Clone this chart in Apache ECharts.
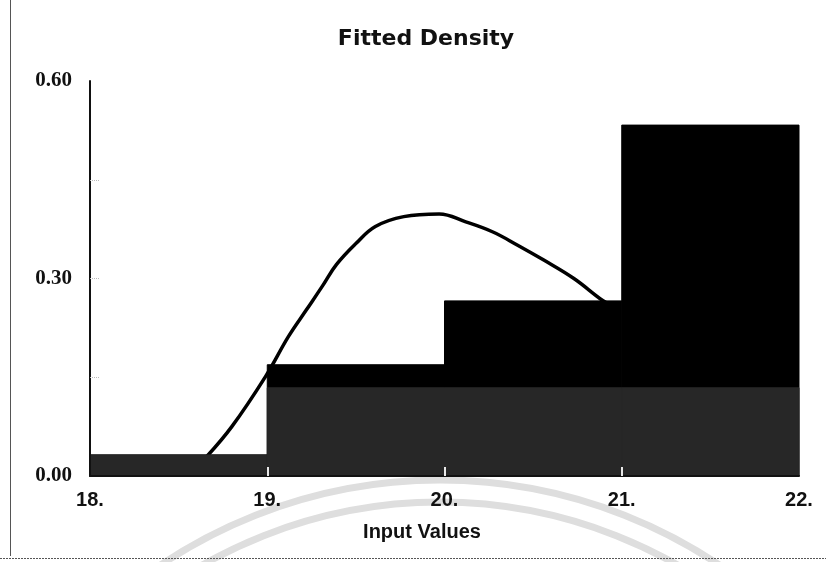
<!DOCTYPE html>
<html>
<head>
<meta charset="utf-8">
<script src="https://cdn.jsdelivr.net/npm/echarts@6/dist/echarts.min.js"></script>
<style>
  html, body { margin: 0; padding: 0; background: #ffffff; }
  #chart { width: 826px; height: 562px; }
</style>
</head>
<body>
<div id="chart"></div>
<script>
// Histogram bins (lower / upper edges) and densities
const binLow = [18, 19, 20, 21];
const binHigh = [19, 20, 21, 22];
const histDensity = [0.032, 0.169, 0.266, 0.533];
// Darker lower band drawn over the histogram
const bandDensity = [0.032, 0.134, 0.134, 0.134];

// Fitted density curve
const curveX = [18.66, 18.80, 18.99, 19.12, 19.22, 19.31, 19.39, 19.50, 19.61, 19.77, 19.97, 20.12, 20.27, 20.41, 20.56, 20.73, 20.89, 20.95];
const curveY = [0.030, 0.075, 0.151, 0.212, 0.252, 0.288, 0.321, 0.353, 0.379, 0.394, 0.398, 0.386, 0.371, 0.351, 0.328, 0.300, 0.267, 0.258];

// Axis ticks
const xTicks = [18, 19, 20, 21, 22];
const yTicks = [0.00, 0.30, 0.60];

const titleText = 'Fitted Density';
const xAxisTitle = 'Input Values';

const histData = binLow.map((lo, i) => [lo, binHigh[i], histDensity[i]]);
const bandData = binLow.map((lo, i) => [lo, binHigh[i], bandDensity[i]]);
const curveData = curveX.map((x, i) => [x, curveY[i]]);

function rectRenderer(color) {
  return function (params, api) {
    const top = api.coord([api.value(0), api.value(2)]);
    const bottom = api.coord([api.value(1), 0]);
    return {
      type: 'rect',
      shape: { x: top[0], y: top[1], width: bottom[0] - top[0], height: bottom[1] - top[1] },
      // same-colour outline closes the hairline seams between neighbouring bins
      style: { fill: color, stroke: color, lineWidth: 1 }
    };
  };
}

const chart = echarts.init(document.getElementById('chart'), null, { renderer: 'canvas' });

chart.setOption({
  backgroundColor: '#ffffff',
  animation: false,
  grid: { left: 90, right: 27, top: 81, bottom: 86 },
  xAxis: {
    type: 'value',
    min: 18, max: 22, interval: 1,
    z: 10,
    axisLine: { show: true, lineStyle: { color: '#111111', width: 2 } },
    axisTick: { show: true, inside: true, length: 9, customValues: [19, 20, 21], lineStyle: { color: '#e8e8e8', width: 2 } },
    splitLine: { show: false },
    axisLabel: {
      customValues: xTicks,
      margin: 14,
      color: '#111111',
      fontFamily: 'Liberation Sans, Arial, sans-serif',
      fontWeight: 'bold',
      fontSize: 20,
      formatter: v => v + '.'
    }
  },
  yAxis: {
    type: 'value',
    min: 0, max: 0.6, interval: 0.15,
    z: 10,
    axisLine: { show: true, lineStyle: { color: '#111111', width: 2 } },
    axisTick: { show: true, inside: true, length: 10, customValues: [0.15, 0.30, 0.45], lineStyle: { color: '#bbbbbb', width: 1, type: 'dotted' } },
    splitLine: { show: false },
    axisLabel: {
      customValues: yTicks,
      margin: 18,
      color: '#111111',
      fontFamily: 'Liberation Serif, Times New Roman, serif',
      fontWeight: 'bold',
      fontSize: 21,
      formatter: v => v.toFixed(2)
    }
  },
  graphic: [
    // faint circular marks in the lower area
    { type: 'arc', z: -10, silent: true, shape: { cx: 440, cy: 981, r: 501, startAngle: Math.PI, endAngle: 2 * Math.PI }, style: { stroke: '#dedede', lineWidth: 7, fill: null } },
    { type: 'arc', z: -10, silent: true, shape: { cx: 440, cy: 981, r: 479, startAngle: Math.PI, endAngle: 2 * Math.PI }, style: { stroke: '#dedede', lineWidth: 7, fill: null } },
    // page frame
    { type: 'line', z: 5, silent: true, shape: { x1: 10.5, y1: 0, x2: 10.5, y2: 556 }, style: { stroke: '#555555', lineWidth: 1 } },
    { type: 'line', z: 5, silent: true, shape: { x1: 0, y1: 558.5, x2: 826, y2: 558.5 }, style: { stroke: '#555555', lineWidth: 1, lineDash: [2, 1] } },
    // chart title
    { type: 'text', z: 20, silent: true,
      style: { text: titleText, x: 426, y: 39, textAlign: 'center', textVerticalAlign: 'middle', fill: '#111111', font: 'bold 22px "DejaVu Sans", Verdana, sans-serif' } },
    // x-axis title
    { type: 'text', z: 20, silent: true,
      style: { text: xAxisTitle, x: 422, y: 532, textAlign: 'center', textVerticalAlign: 'middle', fill: '#111111', font: 'bold 20px "Liberation Sans", Arial, sans-serif' } }
  ],
  series: [
    {
      name: 'Fitted',
      type: 'line',
      z: 1,
      data: curveData,
      smooth: 0.4,
      symbol: 'none',
      lineStyle: { color: '#000000', width: 3.5 }
    },
    {
      name: 'Histogram',
      type: 'custom',
      z: 2,
      renderItem: rectRenderer('#000000'),
      encode: { x: [0, 1], y: 2 },
      data: histData
    },
    {
      name: 'Band',
      type: 'custom',
      z: 3,
      renderItem: rectRenderer('#272727'),
      encode: { x: [0, 1], y: 2 },
      data: bandData
    }
  ]
});
</script>
</body>
</html>
